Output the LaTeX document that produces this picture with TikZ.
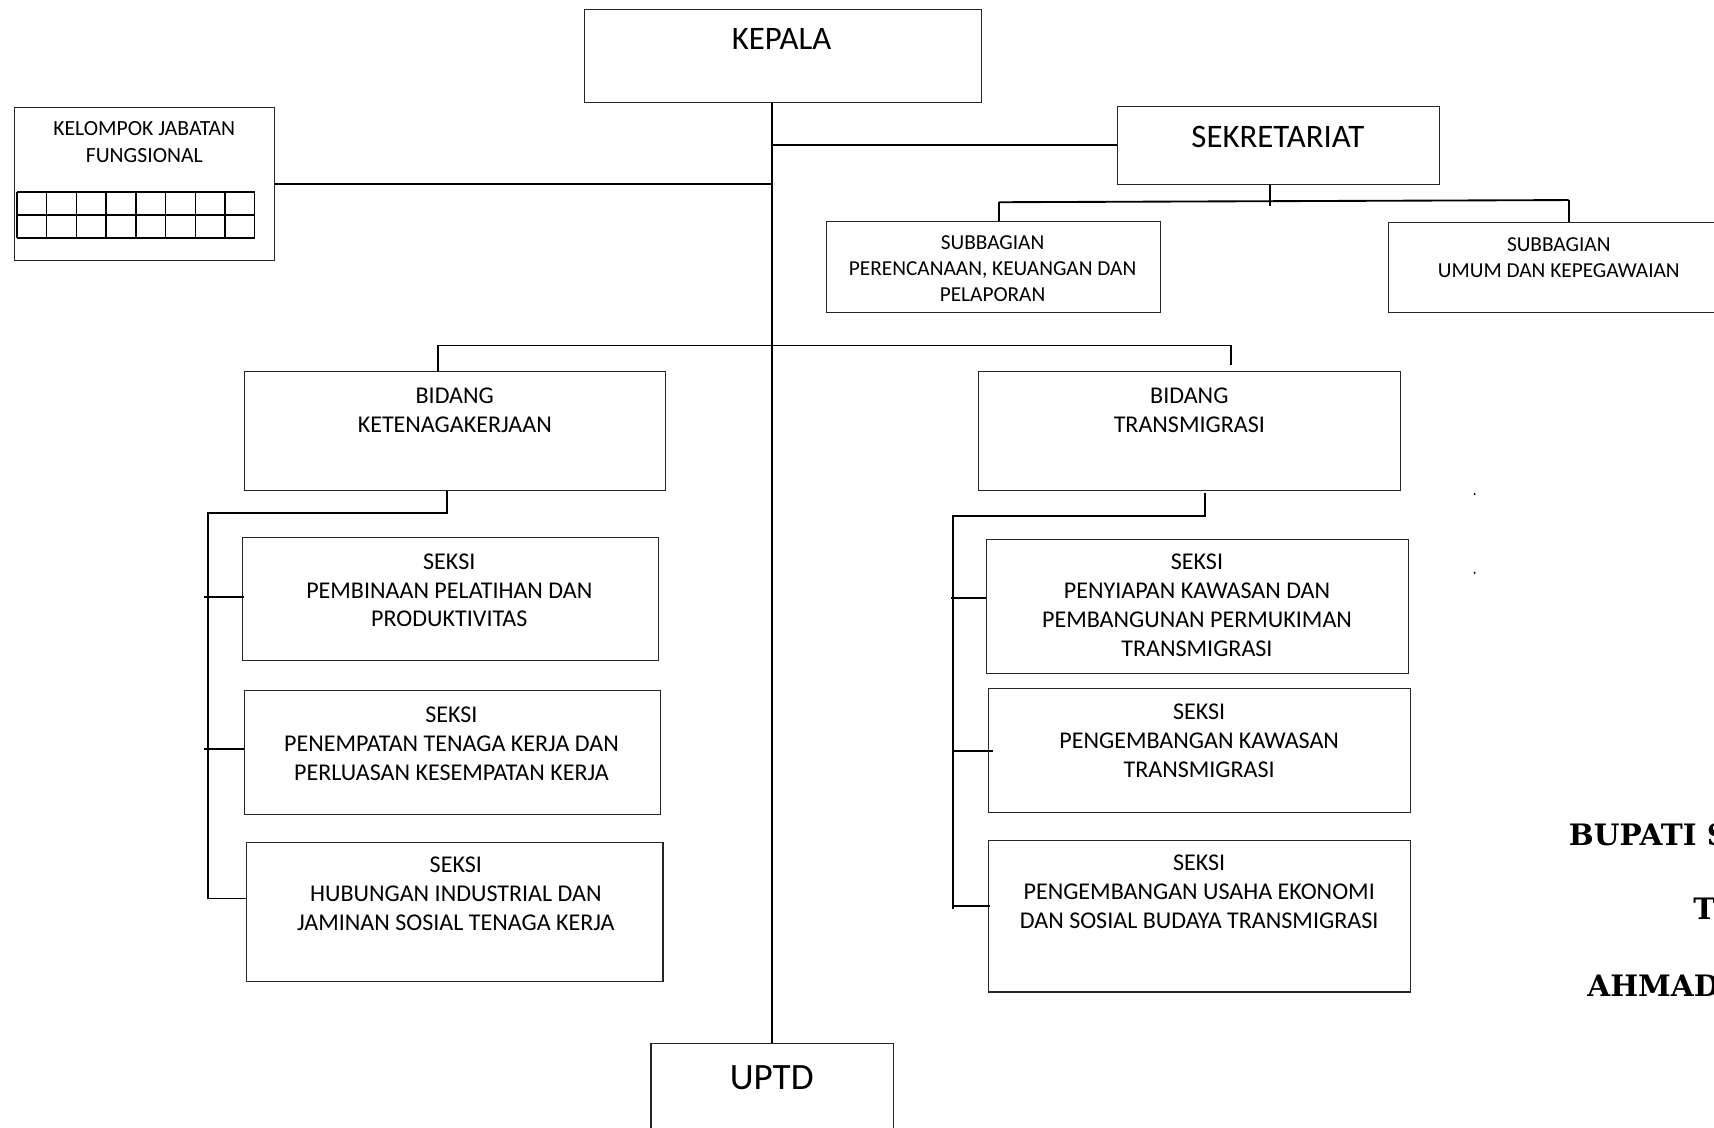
\documentclass[tikz,border=0pt]{standalone}
\usepackage{fontspec}
\setmainfont{Carlito}
\newfontfamily\serifbold{DejaVu Serif}
\begin{document}
\begin{tikzpicture}[x=1pt,y=-1pt,
  box/.style={draw=black!85, line width=1pt, inner sep=0pt, anchor=north west},
  conn/.style={draw=black, line width=1.7pt},
  lbl/.style={align=center, inner sep=0pt, text=black},
  fhead/.style={font=\fontsize{30}{36}\selectfont},
  fuptd/.style={font=\fontsize{34}{40}\selectfont},
  fmid/.style={font=\fontsize{22}{26.5}\selectfont},
  fsmall/.style={font=\fontsize{19.5}{24}\selectfont},
  fkjf/.style={font=\fontsize{19.8}{24}\selectfont},
  fsign/.style={font=\serifbold\bfseries\fontsize{27}{32}\selectfont, inner sep=0pt, anchor=west}
]
\useasboundingbox (0,0) rectangle (1568,1031);

% ---------- boxes ----------
\node[box, minimum width=363pt, minimum height=85pt] (kepala) at (534,8) {};
\node[box, minimum width=294pt, minimum height=71pt] (sekr) at (1022,97) {};
\node[box, minimum width=238pt, minimum height=140pt] (kjf) at (13,98) {};
\node[box, minimum width=305pt, minimum height=83pt] (sbp) at (756,202) {};
\node[box, minimum width=330pt, minimum height=82pt] (sbu) at (1270,203) {};
\node[box, minimum width=385pt, minimum height=109pt] (bk) at (223,339) {};
\node[box, minimum width=386pt, minimum height=109pt] (bt) at (895,339) {};
\node[box, minimum width=381pt, minimum height=113pt] (sl1) at (221,491) {};
\node[box, minimum width=381pt, minimum height=114pt] (sl2) at (223,631) {};
\node[box, minimum width=381pt, minimum height=127pt] (sl3) at (225,770) {};
\node[box, minimum width=386pt, minimum height=123pt] (sr1) at (902,493) {};
\node[box, minimum width=386pt, minimum height=114pt] (sr2) at (904,629) {};
\node[box, minimum width=386pt, minimum height=139pt] (sr3) at (904,768) {};
\node[box, minimum width=222pt, minimum height=95pt] (uptd) at (595,954) {};

% ---------- texts ----------
\node[lbl, fhead] (kepala-t) at (715,36) {KEPALA};
\node[lbl, fhead] (sekr-t) at (1169,125) {SEKRETARIAT};
\node[lbl, fkjf] (kjf-t) at (132,130) {KELOMPOK JABATAN\\FUNGSIONAL};
\node[lbl, fsmall] (sbp-t) at (908,246) {SUBBAGIAN\\PERENCANAAN, KEUANGAN DAN\\PELAPORAN};
\node[lbl, fsmall] (sbu-t) at (1426,236) {SUBBAGIAN\\UMUM DAN KEPEGAWAIAN};
\node[lbl, fmid] (bk-t) at (416,375) {BIDANG\\KETENAGAKERJAAN};
\node[lbl, fmid] (bt-t) at (1088,375) {BIDANG\\TRANSMIGRASI};
\node[lbl, fmid] (sl1-t) at (411,540) {SEKSI\\PEMBINAAN PELATIHAN DAN\\PRODUKTIVITAS};
\node[lbl, fmid] (sl2-t) at (413,680) {SEKSI\\PENEMPATAN TENAGA KERJA DAN\\PERLUASAN KESEMPATAN KERJA};
\node[lbl, fmid] (sl3-t) at (417,818) {SEKSI\\HUBUNGAN INDUSTRIAL DAN\\JAMINAN SOSIAL TENAGA KERJA};
\node[lbl, fmid] (sr1-t) at (1095,554) {SEKSI\\PENYIAPAN KAWASAN DAN\\PEMBANGUNAN PERMUKIMAN\\TRANSMIGRASI};
\node[lbl, fmid] (sr2-t) at (1097,678) {SEKSI\\PENGEMBANGAN KAWASAN\\TRANSMIGRASI};
\node[lbl, fmid] (sr3-t) at (1097,816) {SEKSI\\PENGEMBANGAN USAHA EKONOMI\\DAN SOSIAL BUDAYA TRANSMIGRASI};
\node[lbl, fuptd] (uptd-t) at (706,986) {UPTD};

% ---------- grid inside the functional group box ----------
\foreach \i in {0,...,8} {
  \draw[line width=1.3pt] (15.6+27.18*\i,175.6) -- (15.6+27.18*\i,217.7);
}
\draw[line width=1.3pt] (15.6,175.6) -- (233,175.6);
\draw[line width=1.3pt] (15.6,196.7) -- (233,196.7);
\draw[line width=1.3pt] (15.6,217.7) -- (233,217.7);

% ---------- junction coordinates ----------
\coordinate (sj) at (1162,188);
\coordinate (sjl) at (914,185);
\coordinate (sjr) at (1435,183);
\coordinate (bjl) at (401,316);
\coordinate (bjr) at (1126,316);
\coordinate (bjre) at (1126,334);
\coordinate (lj) at (409,469);
\coordinate (lv) at (190,469);
\coordinate (lvb) at (190,822);
\coordinate (lc1) at (187,546);
\coordinate (lc2) at (187,685);
\coordinate (lc3) at (190,822);
\coordinate (rjt) at (1102,451);
\coordinate (rj) at (1102,472);
\coordinate (rv) at (872,472);
\coordinate (rvb) at (872,832);
\coordinate (rc1) at (870,547);
\coordinate (rc2) at (872,687);
\coordinate (rc3) at (872,829);

% ---------- connectors ----------
\draw[conn] (kepala.south -| uptd.north) -- (uptd.north);
\draw[conn] (kjf.east) -- (kjf.east -| uptd.north);
\draw[conn] (sekr.west) -- (sekr.west -| uptd.north);
\draw[conn] (sekr.south -| sj) -- (sj);
\draw[conn] (sjl) -- (sjr);
\draw[conn] (sjl) -- (sbp.north -| sjl);
\draw[conn] (sjr) -- (sbu.north -| sjr);
\draw[conn] (bjl) -- (bjr);
\draw[conn] (bjl) -- (bk.north -| bjl);
\draw[conn] (bjr) -- (bjre);
\draw[conn] (bk.south -| lj) -- (lj) -- (lv) -- (lvb);
\draw[conn] (lc1) -- ([xshift=2pt]lc1 -| sl1.west);
\draw[conn] (lc2) -- (lc2 -| sl2.west);
\draw[conn] (lc3) -- (lc3 -| sl3.west);
\draw[conn] (rjt) -- (rj) -- (rv) -- (rvb);
\draw[conn] (rc1) -- (rc1 -| sr1.west);
\draw[conn] (rc2) -- ([xshift=4pt]rc2 -| sr2.west);
\draw[conn] (rc3) -- ([xshift=2pt]rc3 -| sr3.west);

% ---------- dots ----------
\fill (1349,452) circle (1pt);
\fill (1349,524) circle (1pt);

% ---------- signature block (cut by the page edge, as in the reference) ----------
\node[fsign] (sig1) at (1435,764) {BUPATI S};
\node[fsign] (sig2) at (1549,831) {T};
\node[fsign] (sig3) at (1452,902) {AHMAD};
\end{tikzpicture}
\end{document}
